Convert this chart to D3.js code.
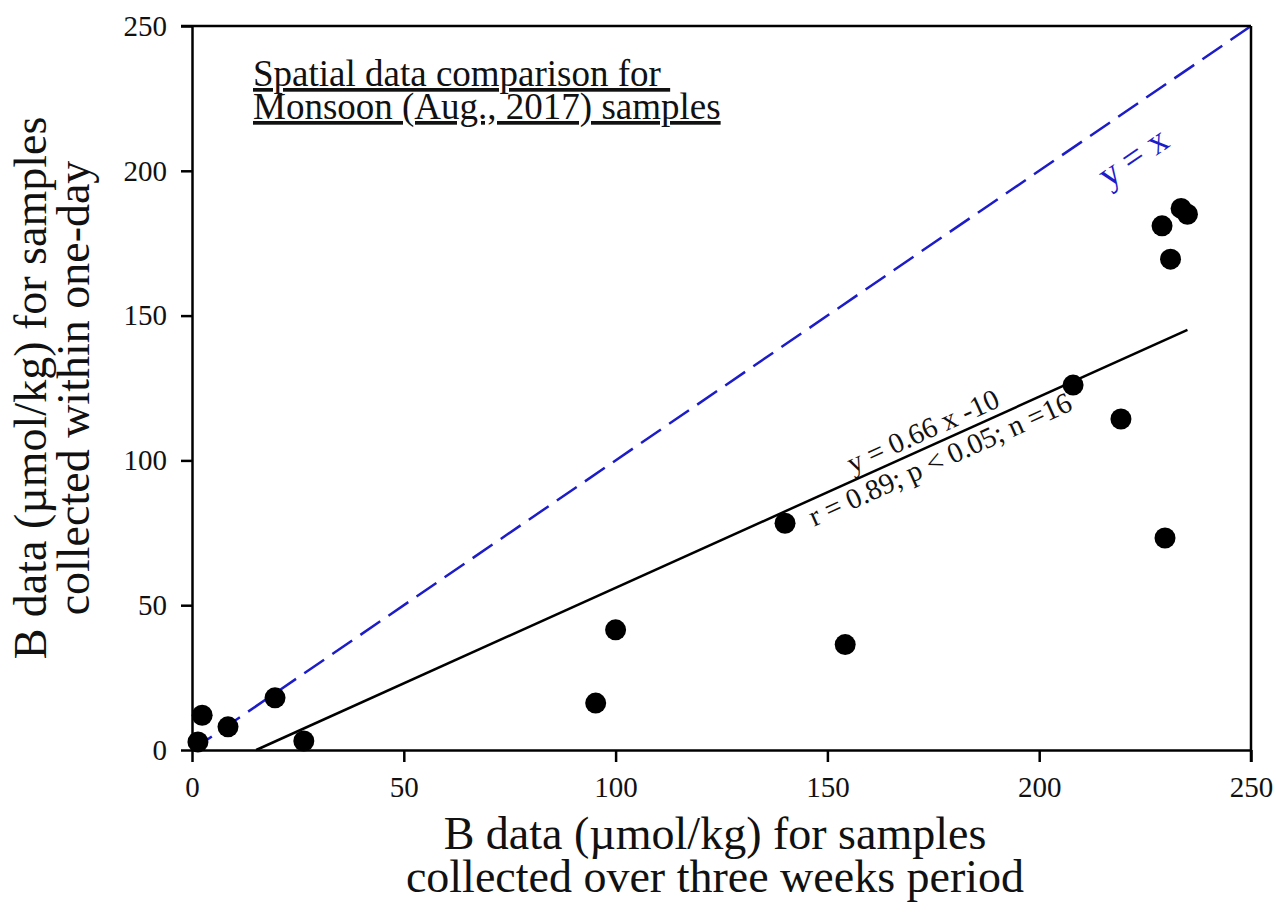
<!DOCTYPE html>
<html>
<head>
<meta charset="utf-8">
<script src="https://cdnjs.cloudflare.com/ajax/libs/d3/7.8.5/d3.min.js"></script>
<style>
  body { margin: 0; background: #fff; }
  svg { display: block; }
  text { font-family: "Liberation Serif", "Times New Roman", serif; fill: #111; }
</style>
</head>
<body>
<svg width="1276" height="921"></svg>
<script>
// Sample values (µmol/kg)
var threeWeeks = [1.4, 2.4, 8.5, 19.6, 26.4, 95.3, 100, 140, 154.2, 208, 219.3, 229.7, 229, 233.5, 235, 231];
var oneDay     = [2.8, 12, 8, 18, 3.1, 16.2, 41.5, 78.3, 36.4, 126, 114.3, 73.2, 181, 187, 185, 169.5];

var xTicks = [0, 50, 100, 150, 200, 250];
var yTicks = [0, 50, 100, 150, 200, 250];

// Linear fit y = 0.66 x - 10, drawn from y = 0 to the last sample
var fitSlope = 0.66, fitIntercept = -10;
var fitFrom = 15.15, fitTo = 235;

var svg = d3.select("svg"),
    width = +svg.attr("width"),
    height = +svg.attr("height");

// plot box edges (note: "top" is taken by window.top, so use pl/pr/pt/pb)
var pl = 192, pr = 1251, pt = 26, pb = 750;

var x = d3.scaleLinear().domain([0, 250]).range([pl, pr]);
var y = d3.scaleLinear().domain([0, 250]).range([pb, pt]);

svg.append("rect").attr("width", width).attr("height", height).attr("fill", "#fff");

// 1:1 line
svg.append("line")
    .attr("x1", x(0)).attr("y1", y(0))
    .attr("x2", x(250)).attr("y2", y(250))
    .attr("stroke", "#1c1cc8")
    .attr("stroke-width", 2.5)
    .attr("stroke-dasharray", "24,10");

// regression line
svg.append("line")
    .attr("x1", x(fitFrom)).attr("y1", y(fitSlope * fitFrom + fitIntercept))
    .attr("x2", x(fitTo)).attr("y2", y(fitSlope * fitTo + fitIntercept))
    .attr("stroke", "#000")
    .attr("stroke-width", 2.5);

// axes (ticks pointing out on left and bottom only)
var xAxis = svg.append("g")
    .attr("transform", "translate(0," + pb + ")")
    .call(d3.axisBottom(x).tickValues(xTicks).tickSize(12).tickPadding(14).tickSizeOuter(0));
var yAxis = svg.append("g")
    .attr("transform", "translate(" + pl + ",0)")
    .call(d3.axisLeft(y).tickValues(yTicks).tickSize(11).tickPadding(14).tickSizeOuter(0));

[xAxis, yAxis].forEach(function(a) {
  a.attr("font-family", "Liberation Serif").attr("font-size", 29);
  a.select(".domain").attr("stroke", "#000").attr("stroke-width", 2.5);
  a.selectAll(".tick line").attr("stroke", "#000").attr("stroke-width", 2.5);
  a.selectAll(".tick text").attr("fill", "#111");
});

// top and right frame lines
svg.append("line")
    .attr("x1", pl - 11).attr("y1", pt).attr("x2", pr).attr("y2", pt)
    .attr("stroke", "#000").attr("stroke-width", 2.5);
svg.append("line")
    .attr("x1", pr).attr("y1", pt).attr("x2", pr).attr("y2", pb + 12)
    .attr("stroke", "#000").attr("stroke-width", 2.5);

// sample points
svg.append("g")
  .selectAll("circle")
  .data(threeWeeks)
  .enter().append("circle")
    .attr("cx", function(d) { return x(d); })
    .attr("cy", function(d, i) { return y(oneDay[i]); })
    .attr("r", 10.5)
    .attr("fill", "#000");

// labels along the lines
var fitAngle = -Math.atan(fitSlope * (pb - pt) / (pr - pl)) * 180 / Math.PI;
var fitX = 175;
var fitLabel = svg.append("g")
    .attr("transform", "translate(" + x(fitX) + "," + y(fitSlope * fitX + fitIntercept) + ") rotate(" + fitAngle + ")");
fitLabel.append("text")
    .attr("text-anchor", "middle")
    .attr("x", -4).attr("y", -7)
    .attr("font-size", 29)
    .text("y = 0.66 x -10");
fitLabel.append("text")
    .attr("text-anchor", "middle")
    .attr("y", 26)
    .attr("font-size", 29)
    .text("r = 0.89; p < 0.05; n =16");

var oneAngle = -Math.atan((pb - pt) / (pr - pl)) * 180 / Math.PI;
svg.append("text")
    .attr("transform", "translate(" + x(222) + "," + y(205) + ") rotate(" + oneAngle + ")")
    .attr("text-anchor", "middle")
    .attr("dy", "0.35em")
    .attr("font-size", 37)
    .style("fill", "#1c1cc8")
    .text("y = x");

// title block, underlined
var title = svg.append("text")
    .attr("x", 253)
    .attr("font-size", 37)
    .style("text-decoration", "underline");
title.append("tspan").attr("x", 253).attr("y", 86).text("Spatial data comparison for ");
title.append("tspan").attr("x", 253).attr("y", 119).text("Monsoon (Aug., 2017) samples");

// axis titles
var xTitle = svg.append("text")
    .attr("text-anchor", "middle")
    .attr("font-size", 46);
xTitle.append("tspan").attr("x", 715).attr("y", 849).text("B data (µmol/kg) for samples");
xTitle.append("tspan").attr("x", 715).attr("y", 892).text("collected over three weeks period");

var yTitle = svg.append("text")
    .attr("text-anchor", "middle")
    .attr("transform", "translate(0," + (pt + pb) / 2 + ") rotate(-90)")
    .attr("font-size", 46);
yTitle.append("tspan").attr("x", 0).attr("y", 46).text("B data (µmol/kg) for samples");
yTitle.append("tspan").attr("x", 0).attr("y", 89).text("collected within one-day");
</script>
</body>
</html>
